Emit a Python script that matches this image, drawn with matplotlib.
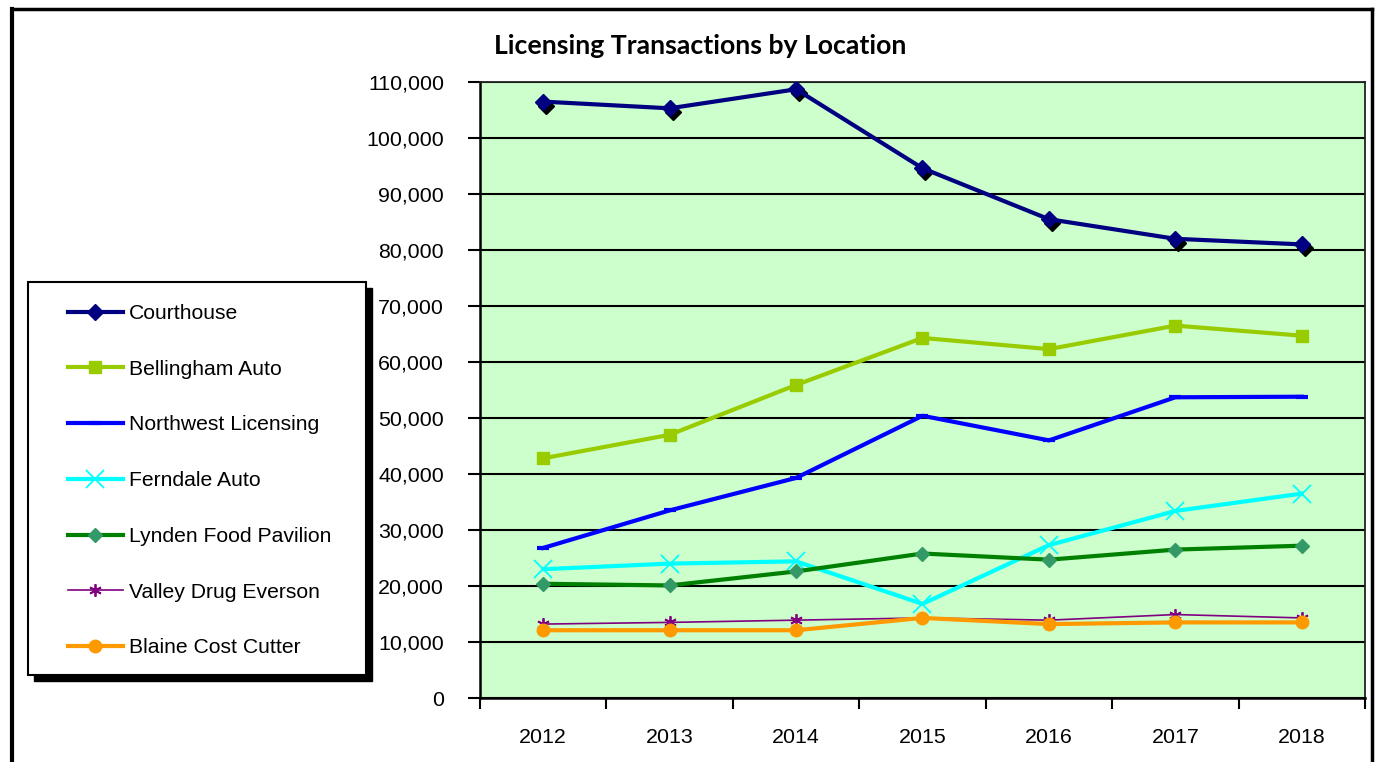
"""Licensing transactions by location, 2012-2018 (Excel-style line chart)."""

import matplotlib
matplotlib.use("Agg")
import matplotlib.pyplot as plt
from matplotlib.lines import Line2D
from matplotlib.patches import Rectangle
from matplotlib.ticker import FuncFormatter, MultipleLocator
import matplotlib.transforms as mtransforms

plt.rcParams["font.family"] = ["Liberation Sans", "DejaVu Sans"]

years = ["2012", "2013", "2014", "2015", "2016", "2017", "2018"]

courthouse = [106500, 105300, 108700, 94600, 85500, 82000, 81000]
bellingham_auto = [42800, 47000, 55900, 64300, 62300, 66500, 64700]
northwest_licensing = [26800, 33500, 39300, 50400, 46000, 53700, 53800]
ferndale_auto = [23000, 24000, 24400, 16800, 27300, 33400, 36500]
lynden_food_pavilion = [20400, 20100, 22600, 25800, 24700, 26500, 27200]
valley_drug_everson = [13200, 13500, 13900, 14300, 13900, 14900, 14300]
blaine_cost_cutter = [12100, 12100, 12100, 14300, 13200, 13500, 13500]

W, H = 1382, 762
TICK_FS = 15.4
LEG_FS = 15.2

fig = plt.figure(figsize=(W / 100, H / 100), dpi=100)
fig.patch.set_facecolor("white")

# plot area in pixel terms of the reference
left, right, top, bottom = 480, 1365, 82, 698
ax = fig.add_axes([left / W, 1 - bottom / H, (right - left) / W, (bottom - top) / H])
ax.set_facecolor("#CCFFCC")

x = list(range(len(years)))

series = [
    ("Courthouse", courthouse, dict(color="#000080", lw=3.0, marker="D", ms=8,
                                    mfc="#000080", mec="#000080")),
    ("Bellingham Auto", bellingham_auto, dict(color="#99CC00", lw=3.0, marker="s", ms=8.5,
                                              mfc="#99CC00", mec="#99CC00")),
    ("Northwest Licensing", northwest_licensing, dict(color="#0000FF", lw=3.0, marker="_", ms=9,
                                                      mew=3.0, mec="#0000FF")),
    ("Ferndale Auto", ferndale_auto, dict(color="#00FFFF", lw=3.0, marker="x", ms=13,
                                          mew=1.3, mec="#00FFFF")),
    ("Lynden Food Pavilion", lynden_food_pavilion, dict(color="#008000", lw=3.0, marker="D", ms=7,
                                                        mfc="#339966", mec="#339966")),
    ("Valley Drug Everson", valley_drug_everson, dict(color="#800080", lw=1.2, marker=(6, 2, 0), ms=9,
                                                      mew=1.3, mec="#800080")),
    ("Blaine Cost Cutter", blaine_cost_cutter, dict(color="#FF9900", lw=3.0, marker="o", ms=9,
                                                    mfc="#FF9900", mec="#FF9900")),
]

# black drop shadow under the Courthouse markers
shadow_tr = mtransforms.offset_copy(ax.transData, fig=fig, x=3, y=-4, units="dots")
ax.plot(x, courthouse, ls="none", marker="D", ms=8, color="black", transform=shadow_tr, zorder=3)

handles = []
for name, values, style in series:
    (ln,) = ax.plot(x, values, label=name, zorder=4, **style)
    handles.append(ln)

ax.set_xlim(-0.5, len(years) - 0.5)
ax.set_ylim(0, 110000)
ax.yaxis.set_major_locator(MultipleLocator(10000))
ax.yaxis.set_major_formatter(FuncFormatter(lambda v, p: f"{int(v):,}"))
ax.yaxis.grid(True, color="black", lw=1.5)
ax.set_axisbelow(True)

ax.set_xticks(x)
ax.set_xticklabels(years)
ax.set_xticks([i - 0.5 for i in range(len(years) + 1)], minor=True)
ax.tick_params(axis="x", which="major", length=0, pad=21.5, labelsize=TICK_FS)
ax.tick_params(axis="x", which="minor", length=8, width=1.5, direction="out")
ax.tick_params(axis="y", length=9, width=1.5, direction="out", pad=17, labelsize=TICK_FS)

for side in ["left", "bottom"]:
    ax.spines[side].set_linewidth(1.8)
for side in ["top", "right"]:
    ax.spines[side].set_linewidth(1.3)
    ax.spines[side].set_color("#222222")

fig.text(700 / W, 1 - 46 / H, "Licensing Transactions by Location", ha="center", va="center",
         fontsize=19.2, fontweight="bold", family=["Lato", "DejaVu Sans"])

# legend box with a solid black drop shadow
lx0, ly0, lx1, ly1 = 28, 282, 366, 675
fig.patches.append(Rectangle(((lx0 + 6) / W, 1 - (ly1 + 6) / H), (lx1 - lx0) / W, (ly1 - ly0) / H,
                             transform=fig.transFigure, facecolor="black", edgecolor="black", zorder=1))
fig.patches.append(Rectangle((lx0 / W, 1 - ly1 / H), (lx1 - lx0) / W, (ly1 - ly0) / H,
                             transform=fig.transFigure, facecolor="white", edgecolor="black",
                             lw=1.5, zorder=2))
leg = fig.legend(handles=handles, loc="upper left", bbox_to_anchor=(68 / W, 1 - 304 / H),
                 frameon=False, fontsize=LEG_FS, handlelength=2.6, handletextpad=0.28,
                 labelspacing=1.74, borderpad=0, borderaxespad=0, numpoints=1)
leg.set_zorder(5)

# outer chart border (left, top, right)
border = dict(color="black", transform=fig.transFigure, zorder=10)
fig.add_artist(Line2D([12 / W, 12 / W], [0, 1 - 9 / H], lw=3.0, **border))
fig.add_artist(Line2D([12 / W, 1372 / W], [1 - 9 / H, 1 - 9 / H], lw=2.5, **border))
fig.add_artist(Line2D([1372 / W, 1372 / W], [0, 1 - 9 / H], lw=2.5, **border))

fig.savefig("out.png", dpi=100)
plt.close(fig)
